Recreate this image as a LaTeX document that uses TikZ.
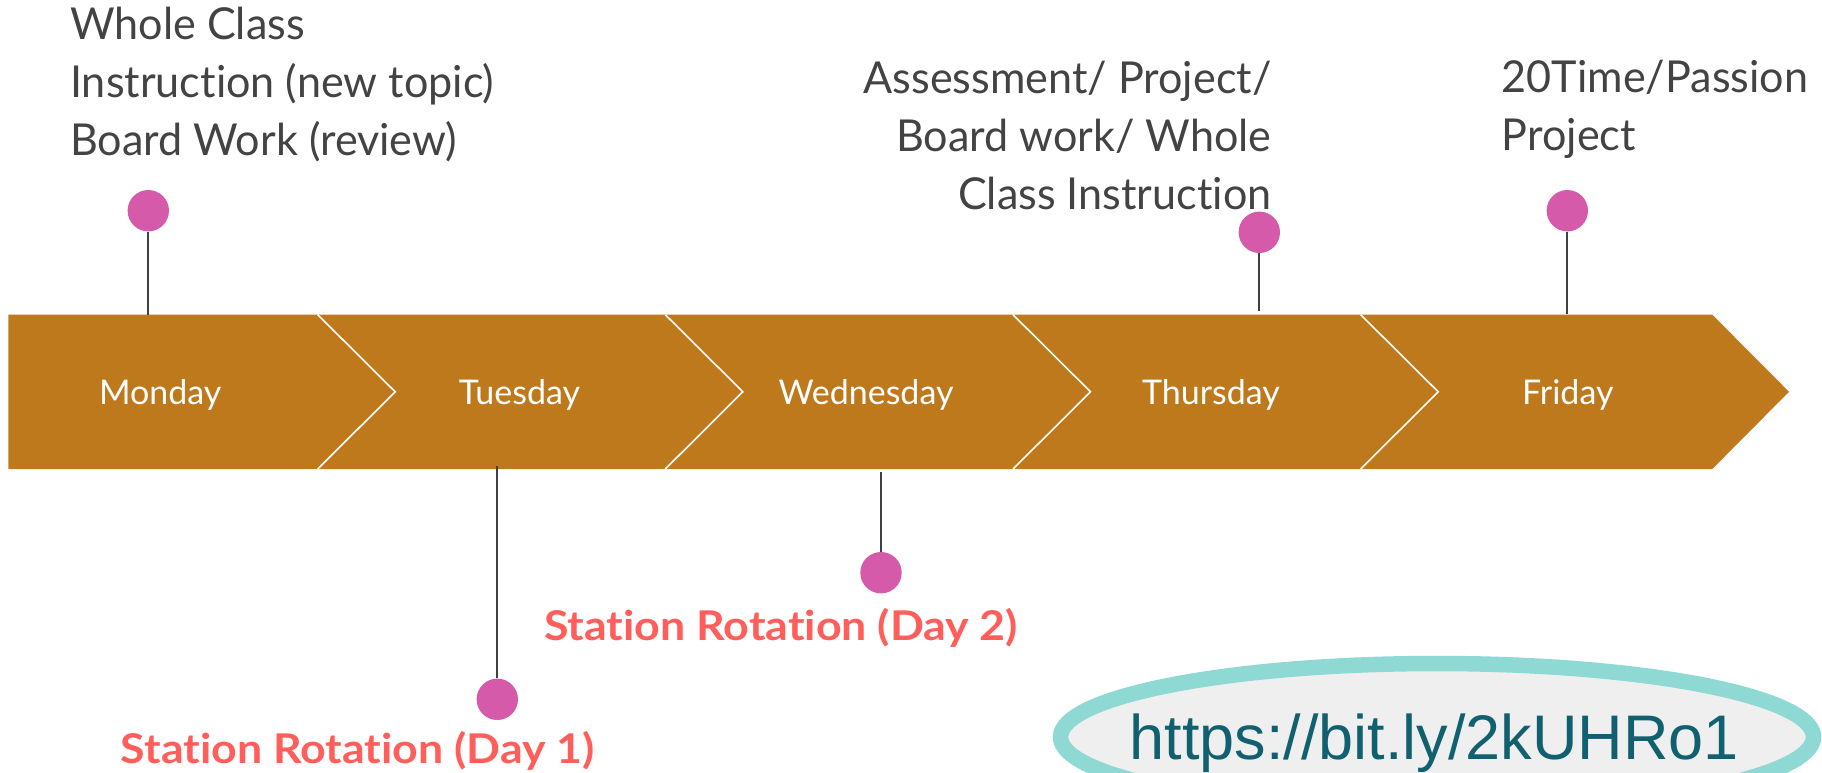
\documentclass[tikz,border=0pt]{standalone}
\usepackage{fontspec}
\setmainfont{Lato}[Ligatures=NoCommon]
\newfontfamily\notefont{Lato}[Ligatures=NoCommon, FakeStretch=0.98]
\newfontfamily\srfont{Lato}[Ligatures=NoCommon, FakeStretch=1.09]
\newfontfamily\urlfont{Liberation Sans}
\usetikzlibrary{shapes.geometric}
\definecolor{bandc}{HTML}{BF791D}
\definecolor{pinc}{HTML}{D55AAA}
\definecolor{txtc}{HTML}{434343}
\definecolor{srred}{HTML}{FF5E5B}
\definecolor{urlc}{HTML}{10606F}
\definecolor{ringc}{HTML}{8FD9D4}
\definecolor{ringfill}{HTML}{EFEFEF}
\definecolor{stemc}{HTML}{404040}
\tikzset{
  daylabel/.style={text=white, inner sep=0, anchor=base, font=\fontsize{34}{40}\selectfont},
  pindot/.style={circle, fill=pinc, inner sep=0, minimum size=41.4},
  stem/.style={draw=stemc, line width=2},
  note/.style={text=txtc, inner sep=0, font=\notefont\fontsize{44}{58}\selectfont},
  srnote/.style={text=srred, inner sep=0, anchor=base west, font=\srfont\fontsize{41}{48}\bfseries\selectfont},
  divider/.style={draw=white, line width=1.6},
}
\begin{document}
\begin{tikzpicture}[x=1pt,y=-1pt]
\useasboundingbox (0,0) rectangle (1822,772);
\clip (0,0) rectangle (1822,772);

% chevron band
\fill[bandc] (8.3,314.7) -- (1712.3,314.7) -- (1789,391.8) -- (1712.3,469) -- (8.3,469) -- cycle;
\foreach \b in {317.7,665.3,1013,1360.7}
  \draw[divider] (\b,314.7) -- (\b+77.5,391.8) -- (\b,469);

% day labels
\node[daylabel] (mon) at (160.3,404) {Monday};
\node[daylabel] (tue) at (519.4,404) {Tuesday};
\node[daylabel] (wed) at (866,404) {Wednesday};
\node[daylabel] (thu) at (1211,404) {Thursday};
\node[daylabel] (fri) at (1567.8,404) {Friday};

% pins
\node[pindot] (p1) at (148.3,210.7) {};
\node[pindot] (p2) at (497.3,699.3) {};
\node[pindot] (p3) at (881,572.7) {};
\node[pindot] (p4) at (1259.3,232.3) {};
\node[pindot] (p5) at (1567.3,210.7) {};
\coordinate (b1) at (148.3,314.7);
\coordinate (b2) at (497.3,466);
\coordinate (b3) at (881,471.7);
\coordinate (b4) at (1259.3,310.7);
\coordinate (b5) at (1567.3,314);
\draw[stem] (p1.south) -- (b1);
\draw[stem] (p2.north) -- (b2);
\draw[stem] (p3.north) -- (b3);
\draw[stem] (p4.south) -- (b4);
\draw[stem] (p5.south) -- (b5);

% notes (base anchor = baseline of last line)
\node[note, anchor=base west, align=left] (n1) at (70,155)
  {Whole Class\\Instruction (new topic)\\Board Work (review)};
\node[note, anchor=base east, align=right] (n4) at (1271.7,209)
  {Assessment/ Project/\\Board work/ Whole\\Class Instruction};
\node[note, anchor=base west, align=left] (n5) at (1501.7,150)
  {20Time/Passion\\Project};
\node[srnote] (n2) at (120.7,763.3) {Station Rotation (Day 1)};
\node[srnote] (n3) at (544,640) {Station Rotation (Day 2)};

% url ellipse
\node[ellipse, draw=ringc, fill=ringfill, line width=15.5, minimum width=753, minimum height=147, inner sep=0] (ring) at (1437,737) {};
\node[text=urlc, inner sep=0, anchor=base, font=\urlfont\fontsize{63}{70}\selectfont] (url) at (1434.4,759) {https://bit.ly/2kUHRo1};
\end{tikzpicture}
\end{document}
